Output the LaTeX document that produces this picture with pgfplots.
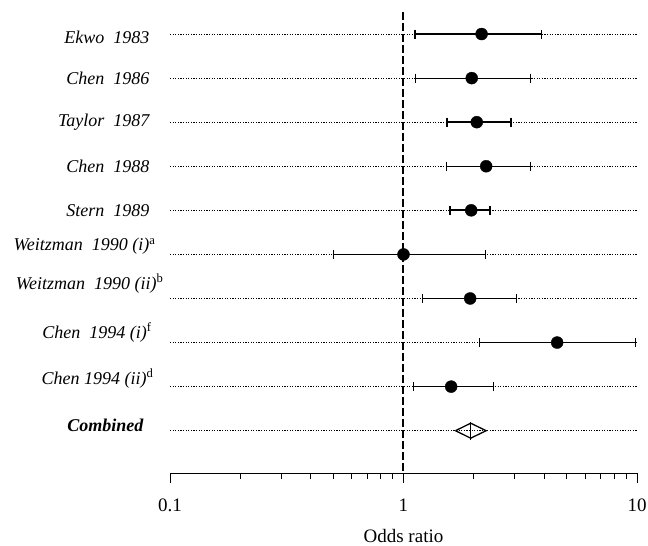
\documentclass[border=0pt]{standalone}
\usepackage{fontspec}
\setmainfont{Liberation Serif}
\usepackage{pgfplots}
\pgfplotsset{compat=1.18}
\begin{document}
\begin{tikzpicture}
\path[use as bounding box] (-170bp,-73bp) rectangle (478bp,473bp);
\begin{axis}[
  at={(0,0)}, anchor=south west,
  scale only axis, width=467bp, height=461bp,
  xmode=log, xmin=0.1, xmax=10,
  ymin=0.5, ymax=10.96, y dir=reverse,
  hide y axis,
  axis x line*=bottom,
  x axis line style={-, line width=0.9bp},
  xtick={0.1,1,10}, xticklabels={0.1,1,10},
  minor xtick={0.2,0.3,0.4,0.5,0.6,0.7,0.8,0.9,2,3,4,5,6,7,8,9},
  tick align=outside,
  major tick length=10bp, minor tick length=6bp,
  every tick/.style={black, line width=0.9bp},
  tick label style={font=\fontsize{19bp}{22bp}\selectfont},
  xticklabel style={yshift=-12bp},
  /pgf/number format/assume math mode=true,
  xlabel={Odds ratio},
  xlabel style={font=\fontsize{19bp}{22bp}\selectfont, yshift=-11bp},
  clip=false,
]
% dotted row guides
\addplot[black, line width=0.8bp, dash pattern=on 1.2bp off 1.4bp] coordinates {(0.1,1) (10,1)};
\addplot[black, line width=0.8bp, dash pattern=on 1.2bp off 1.4bp] coordinates {(0.1,2) (10,2)};
\addplot[black, line width=0.8bp, dash pattern=on 1.2bp off 1.4bp] coordinates {(0.1,3) (10,3)};
\addplot[black, line width=0.8bp, dash pattern=on 1.2bp off 1.4bp] coordinates {(0.1,4) (10,4)};
\addplot[black, line width=0.8bp, dash pattern=on 1.2bp off 1.4bp] coordinates {(0.1,5) (10,5)};
\addplot[black, line width=0.8bp, dash pattern=on 1.2bp off 1.4bp] coordinates {(0.1,6) (10,6)};
\addplot[black, line width=0.8bp, dash pattern=on 1.2bp off 1.4bp] coordinates {(0.1,7) (10,7)};
\addplot[black, line width=0.8bp, dash pattern=on 1.2bp off 1.4bp] coordinates {(0.1,8) (10,8)};
\addplot[black, line width=0.8bp, dash pattern=on 1.2bp off 1.4bp] coordinates {(0.1,9) (10,9)};
\addplot[black, line width=0.8bp, dash pattern=on 1.2bp off 1.4bp] coordinates {(0.1,10) (10,10)};
% line of no effect
\addplot[black, line width=2bp, dash pattern=on 8bp off 3bp] coordinates {(1,0.5) (1,10.96)};
% confidence intervals
\addplot[black, line width=1.1bp, mark=|, mark size=4.5bp] coordinates {(1.12,1) (3.90,1)};
\addplot[black, line width=1.1bp, mark=|, mark size=4.5bp] coordinates {(1.13,2) (3.51,2)};
\addplot[black, line width=1.8bp, mark=|, mark size=4.5bp] coordinates {(1.53,3) (2.88,3)};
\addplot[black, line width=1.1bp, mark=|, mark size=4.5bp] coordinates {(1.53,4) (3.51,4)};
\addplot[black, line width=1.8bp, mark=|, mark size=4.5bp] coordinates {(1.58,5) (2.35,5)};
\addplot[black, line width=1.1bp, mark=|, mark size=4.5bp] coordinates {(0.50,6) (2.24,6)};
\addplot[black, line width=1.1bp, mark=|, mark size=4.5bp] coordinates {(1.21,7) (3.05,7)};
\addplot[black, line width=1.1bp, mark=|, mark size=4.5bp] coordinates {(2.12,8) (9.84,8)};
\addplot[black, line width=1.1bp, mark=|, mark size=4.5bp] coordinates {(1.10,9) (2.42,9)};
% point estimates
\addplot[only marks, mark=*, mark size=6bp, black] coordinates {
 (2.16,1) (1.96,2) (2.06,3) (2.26,4) (1.95,5) (1.00,6) (1.93,7) (4.55,8) (1.60,9)};
% combined diamond
\addplot[black, line width=1.3bp] coordinates {(1.67,10) (1.94,9.83) (2.26,10) (1.94,10.17) (1.67,10)};
\addplot[black, line width=1bp] coordinates {(1.94,9.80) (1.94,10.20)};
% study labels
\begin{scope}[every node/.style={anchor=east, font=\fontsize{18bp}{20bp}\selectfont\itshape}]
\node[xshift=-17bp, yshift=-3bp] at (axis cs:0.1,1) {Ekwo\ \ 1983};
\node[xshift=-17bp] at (axis cs:0.1,2) {Chen\ \ 1986};
\node[xshift=-17bp] at (axis cs:0.1,3) {Taylor\ \ 1987};
\node[xshift=-17bp] at (axis cs:0.1,4) {Chen\ \ 1988};
\node[xshift=-17bp] at (axis cs:0.1,5) {Stern\ \ 1989};
\node[xshift=-11bp, yshift=8bp] at (axis cs:0.1,6) {Weitzman\ \ 1990 (i)\textsuperscript{\upshape a}};
\node[xshift=-3bp, yshift=15bp] at (axis cs:0.1,7) {Weitzman\ \ 1990 (ii)\textsuperscript{\upshape b}};
\node[xshift=-15bp, yshift=10bp] at (axis cs:0.1,8) {Chen\ \ 1994 (i)\textsuperscript{\upshape f}};
\node[xshift=-13bp, yshift=8bp] at (axis cs:0.1,9) {Chen 1994 (ii)\textsuperscript{\upshape d}};
\node[xshift=-23bp, yshift=5bp, font=\fontsize{18bp}{20bp}\selectfont\bfseries\itshape] at (axis cs:0.1,10) {Combined};
\end{scope}
\end{axis}
\end{tikzpicture}
\end{document}
